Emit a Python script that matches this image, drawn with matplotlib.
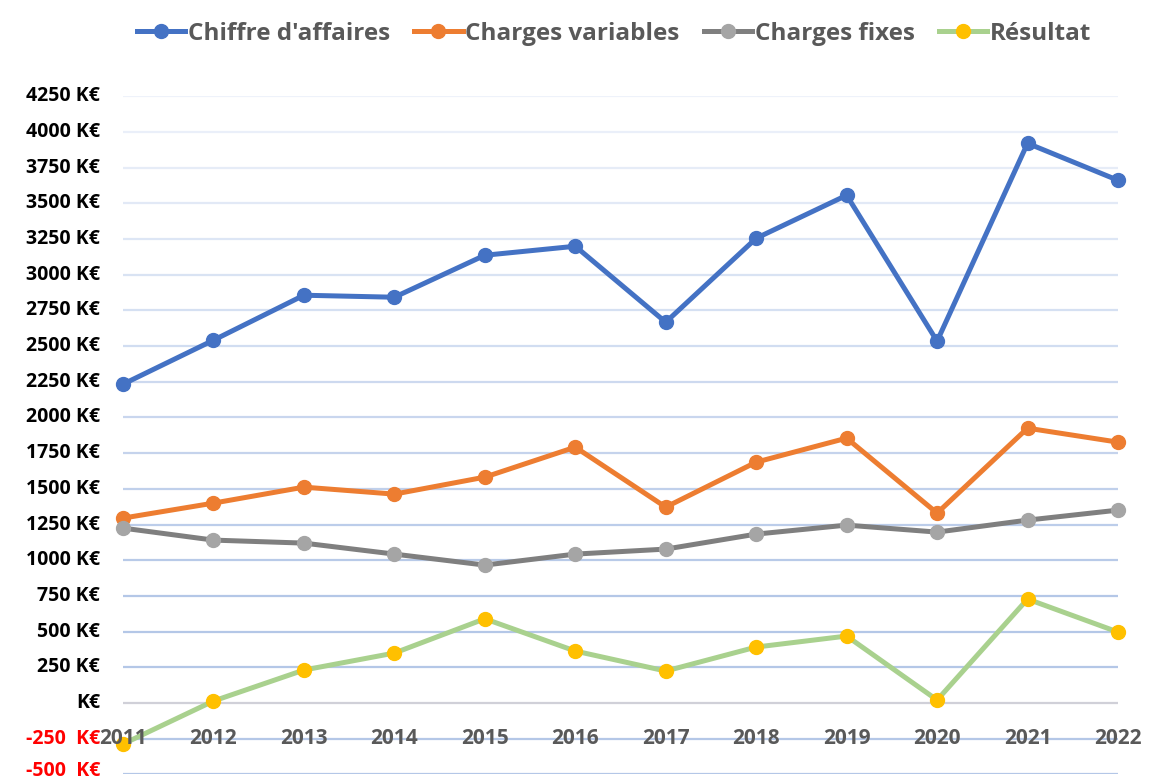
import numpy as np
import matplotlib.pyplot as plt
import matplotlib.colors as mcolors
import matplotlib.transforms as mtransforms

plt.rcParams['font.family'] = ['Open Sans', 'DejaVu Sans']

# data (K€)
years = ['2011', '2012', '2013', '2014', '2015', '2016', '2017', '2018', '2019', '2020', '2021', '2022']
chiffre_affaires = [2233, 2541, 2856, 2842, 3136, 3199, 2667, 3255, 3556, 2534, 3920, 3661]
charges_variables = [1295, 1400, 1512, 1463, 1582, 1792, 1372, 1687, 1855, 1330, 1925, 1827]
charges_fixes = [1225, 1141, 1120, 1043, 966, 1043, 1078, 1183, 1246, 1197, 1281, 1351]
resultat = [-287, 14, 231, 350, 590, 364, 224, 392, 469, 21, 728, 497]

y_ticks = [-500, -250, 0, 250, 500, 750, 1000, 1250, 1500, 1750, 2000, 2250, 2500,
           2750, 3000, 3250, 3500, 3750, 4000, 4250]
y_labels = ['-500  K€', '-250  K€', 'K€', '250 K€', '500 K€', '750 K€', '1000 K€', '1250 K€',
            '1500 K€', '1750 K€', '2000 K€', '2250 K€', '2500 K€', '2750 K€', '3000 K€',
            '3250 K€', '3500 K€', '3750 K€', '4000 K€', '4250 K€']

fig = plt.figure(figsize=(11.54, 7.82), dpi=100)
ax = fig.add_axes([123 / 1154, 0.0097, (1118 - 123) / 1154, 0.877 - 0.0097])

x = np.arange(len(years))

# gridlines: light at the top, stronger blue lower down, grey at zero
light = np.array(mcolors.to_rgb('#eef2fa'))
strong = np.array(mcolors.to_rgb('#b4c7e7'))
for v in y_ticks:
    if v == 0:
        c = '#d0d0d8'
    else:
        t = min(1.0, max(0.0, (4250 - v) / 3500))
        c = light + (strong - light) * t
    ax.axhline(v, color=c, lw=1.6, zorder=0)

series = [
    ("Chiffre d'affaires", chiffre_affaires, '#4472C4', '#4472C4'),
    ('Charges variables', charges_variables, '#ED7D31', '#ED7D31'),
    ('Charges fixes', charges_fixes, '#7F7F7F', '#A5A5A5'),
    ('Résultat', resultat, '#A9D18E', '#FFC000'),
]
for name, vals, lc, mc in series:
    ax.plot(x, vals, color=lc, lw=3.6, marker='o', markersize=10,
            markerfacecolor=mc, markeredgecolor=mc, label=name, clip_on=False, zorder=3)

ax.set_xlim(0, len(years) - 1)
ax.set_ylim(-500, 4250)
for s in ax.spines.values():
    s.set_visible(False)

ax.set_yticks(y_ticks)
ax.set_yticklabels(y_labels, fontsize=14, fontweight='bold')
for lab, v in zip(ax.get_yticklabels(), y_ticks):
    lab.set_color('#FF0000' if v < 0 else '#000000')
    lab.set_verticalalignment('center')
ax.tick_params(axis='y', length=0, pad=16.5)

# bottom label sits right at the edge, lift it a touch so it is not cut
lift = mtransforms.ScaledTranslation(0, 3 / 100, fig.dpi_scale_trans)
bottom_lab = ax.get_yticklabels()[0]
bottom_lab.set_transform(bottom_lab.get_transform() + lift)

# category labels sit at the -250 level
ax.set_xticks([])
for i, yr in enumerate(years):
    ax.text(i, -250, yr, ha='center', va='center', fontsize=15, fontweight='bold',
            color='#595959', zorder=4)

leg = fig.legend(loc='upper center', bbox_to_anchor=(0.532, 1.0), ncol=4, frameon=False,
                 prop={'size': 17.5, 'weight': 'bold'}, handlelength=2.0, columnspacing=1.0,
                 handletextpad=0.1)
for t in leg.get_texts():
    t.set_color('#595959')

fig.savefig('out.png', dpi=100)
